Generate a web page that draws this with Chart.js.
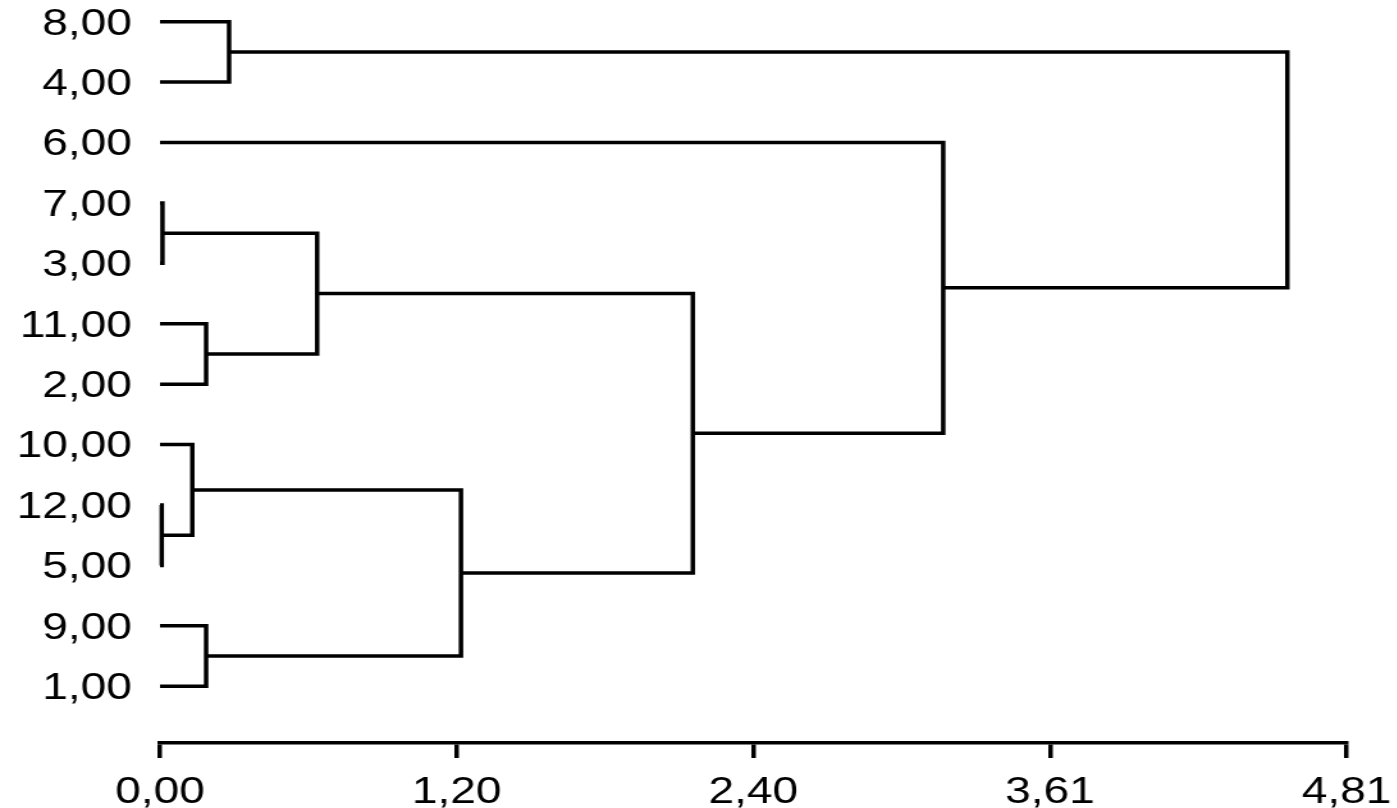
<!DOCTYPE html>
<html>
<head>
<meta charset="utf-8">
<script src="https://cdn.jsdelivr.net/npm/chart.js@4"></script>
<style>
    html, body { margin: 0; padding: 0; background: #fff; overflow: hidden; }
    /* the source image is stretched horizontally, so the chart is drawn narrow and widened */
    #wrap { width: 1092px; height: 808px; transform: scaleX(1.28); transform-origin: 0 0; }
</style>
</head>
<body>
<div id="wrap"><canvas id="dendro"></canvas></div>
<script>
'use strict';

// ── Data ──────────────────────────────────────────────────────────────────────
// leaves, top to bottom (ids 0..11)
const leafLabels  = ['8,00', '4,00', '6,00', '7,00', '3,00', '11,00', '2,00',
                     '10,00', '12,00', '5,00', '9,00', '1,00'];
// merges in order; each merge gets the next id (12, 13, ...)
const mergeLeft   = [0, 3, 5, 13, 8, 7, 10, 17, 15, 2, 12];
const mergeRight  = [1, 4, 6, 14, 9, 16, 11, 18, 19, 20, 21];
const mergeHeight = [0.28, 0.01, 0.187, 0.637, 0.007, 0.131, 0.187, 1.22, 2.16, 3.175, 4.57];

const xTickValues = [0, 1.2025, 2.405, 3.6075, 4.81];
const xTickLabels = ['0,00', '1,20', '2,40', '3,61', '4,81'];

// ── Build the elbow segments from the tree ────────────────────────────────────
const nodeY = leafLabels.map((_, i) => i);
const nodeH = leafLabels.map(() => 0);
const points = [];

mergeLeft.forEach((l, k) => {
    const r = mergeRight[k];
    const h = mergeHeight[k];
    points.push(
        { x: nodeH[l], y: nodeY[l] },
        { x: h,        y: nodeY[l] },
        { x: h,        y: nodeY[r] },
        { x: nodeH[r], y: nodeY[r] },
        { x: h,        y: null }        // gap between elbows
    );
    nodeY.push((nodeY[l] + nodeY[r]) / 2);
    nodeH.push(h);
});

const FONT = { family: '"Liberation Sans", Arial, sans-serif', size: 36 };

new Chart(document.getElementById('dendro'), {
    type: 'scatter',
    data: {
        datasets: [{
            data: points,
            showLine: true,
            spanGaps: false,
            borderColor: '#000',
            borderWidth: 3.5,
            borderJoinStyle: 'miter',
            borderCapStyle: 'butt',
            pointRadius: 0,
            pointHoverRadius: 0,
            tension: 0,
            fill: false,
            clip: false
        }]
    },
    options: {
        responsive: true,
        maintainAspectRatio: false,
        animation: false,
        layout: { padding: { top: 0, right: 40, bottom: 0, left: 0 } },
        plugins: {
            legend: { display: false },
            tooltip: { enabled: false }
        },
        scales: {
            x: {
                type: 'linear',
                min: 0,
                max: 4.81,
                afterBuildTicks: s => { s.ticks = xTickValues.map(v => ({ value: v })); },
                afterFit: s => { s.height = 65; s.paddingLeft = 0; s.paddingRight = 0; },
                ticks: {
                    callback: (v, i) => xTickLabels[i],
                    font: FONT,
                    color: '#000',
                    padding: 13,
                    maxRotation: 0,
                    autoSkip: false
                },
                grid: {
                    display: true,
                    drawOnChartArea: false,
                    drawTicks: true,
                    tickLength: 15,
                    color: '#000',
                    lineWidth: 3.5
                },
                border: { display: true, color: '#000', width: 3.5 }
            },
            y: {
                type: 'linear',
                reverse: true,
                min: -0.33,
                max: 11.94,
                afterBuildTicks: s => { s.ticks = leafLabels.map((_, i) => ({ value: i })); },
                afterFit: s => { s.width = 125; s.paddingTop = 0; s.paddingBottom = 0; },
                ticks: {
                    callback: (v, i) => leafLabels[i],
                    font: FONT,
                    color: '#000',
                    padding: 22,
                    labelOffset: 3,
                    autoSkip: false
                },
                grid: { display: false, drawTicks: false },
                border: { display: false }
            }
        }
    }
});
</script>
</body>
</html>
